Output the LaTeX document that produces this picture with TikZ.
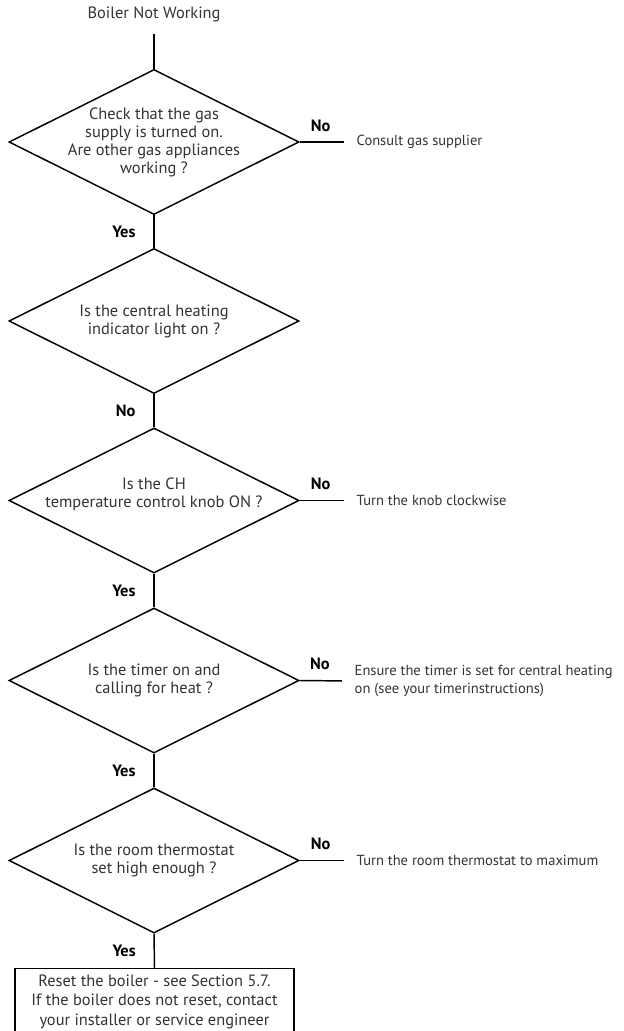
\documentclass[tikz,border=0pt]{standalone}
\usepackage{fontspec}
\setmainfont{PT Sans}
\usetikzlibrary{shapes.geometric}
\definecolor{textgrey}{HTML}{333333}
\tikzset{
    link/.style={line width=1.1pt},
    decision/.style={diamond, draw, line width=1.1pt, inner sep=0pt,
        minimum width=217.5pt, minimum height=108.75pt},
    question/.style={text=textgrey, align=center, font=\fontsize{12.3}{13.5}\selectfont},
    action/.style={text=textgrey, align=left, anchor=west, font=\fontsize{10.9}{13.5}\selectfont},
    answer/.style={font=\fontsize{12.3}{13}\selectfont\bfseries},
    resetbox/.style={draw, line width=1.1pt, minimum width=209.25pt, minimum height=49.5pt,
        text=textgrey, align=center, font=\fontsize{12.3}{14.6}\selectfont}
}

\begin{document}
\begin{tikzpicture}[x=0.75pt, y=-0.75pt]
            \useasboundingbox (0,0) rectangle (624,1031);

            \node[question] (title) at (154,14) {Boiler Not Working};

            \node[decision] (d1) at (154,142) {};
            \node[question] (q1) at (d1) {Check that the gas\\supply is turned on.\\Are other gas appliances\\working ?};
            \node[decision] (d2) at (154,321) {};
            \node[question] (q2) at (d2) {Is the central heating\\indicator light on ?};
            \node[decision] (d3) at (154,500.5) {};
            \node[question] (q3) at (154,494) {Is the CH\\temperature control knob ON ?};
            \node[decision] (d4) at (154,680.5) {};
            \node[question] (q4) at (d4) {Is the timer on and\\calling for heat ?};
            \node[decision] (d5) at (154,860.5) {};
            \node[question] (q5) at (d5) {Is the room thermostat\\set high enough ?};

            \node[resetbox] (reset) at (154.5,1001.5) {Reset the boiler - see Section 5.7.\\If the boiler does not reset, contact\\your installer or service engineer};

            % answers on the right
            \node[action] (gas) at (352,142) {Consult gas supplier};
            \node[action] (knob) at (352,500.5) {Turn the knob clockwise};
            \node[action] (timer) at (350,681) {Ensure the timer is set for central heating\\on (see your timerinstructions)};
            \node[action] (stat) at (352,860.5) {Turn the room thermostat to maximum};

            \draw[link, shorten <=6pt] (title.south) -- (d1.north);
             %down the chart
                 \foreach \from/\to/\ans in {d1/d2/Yes, d2/d3/No, d3/d4/Yes, d4/d5/Yes, d5/reset/Yes}
                     \draw[link] (\from.south) -- node[answer, left=10pt] {\ans} (\to.north);
             %no branches
                 \foreach \d/\a in {d1/gas, d3/knob, d4/timer, d5/stat}
                     \draw[link, shorten >=6pt] (\d.east) -- node[answer, above=4pt, pos=0.4] {No} (\a.west);
\end{tikzpicture}
\end{document}
